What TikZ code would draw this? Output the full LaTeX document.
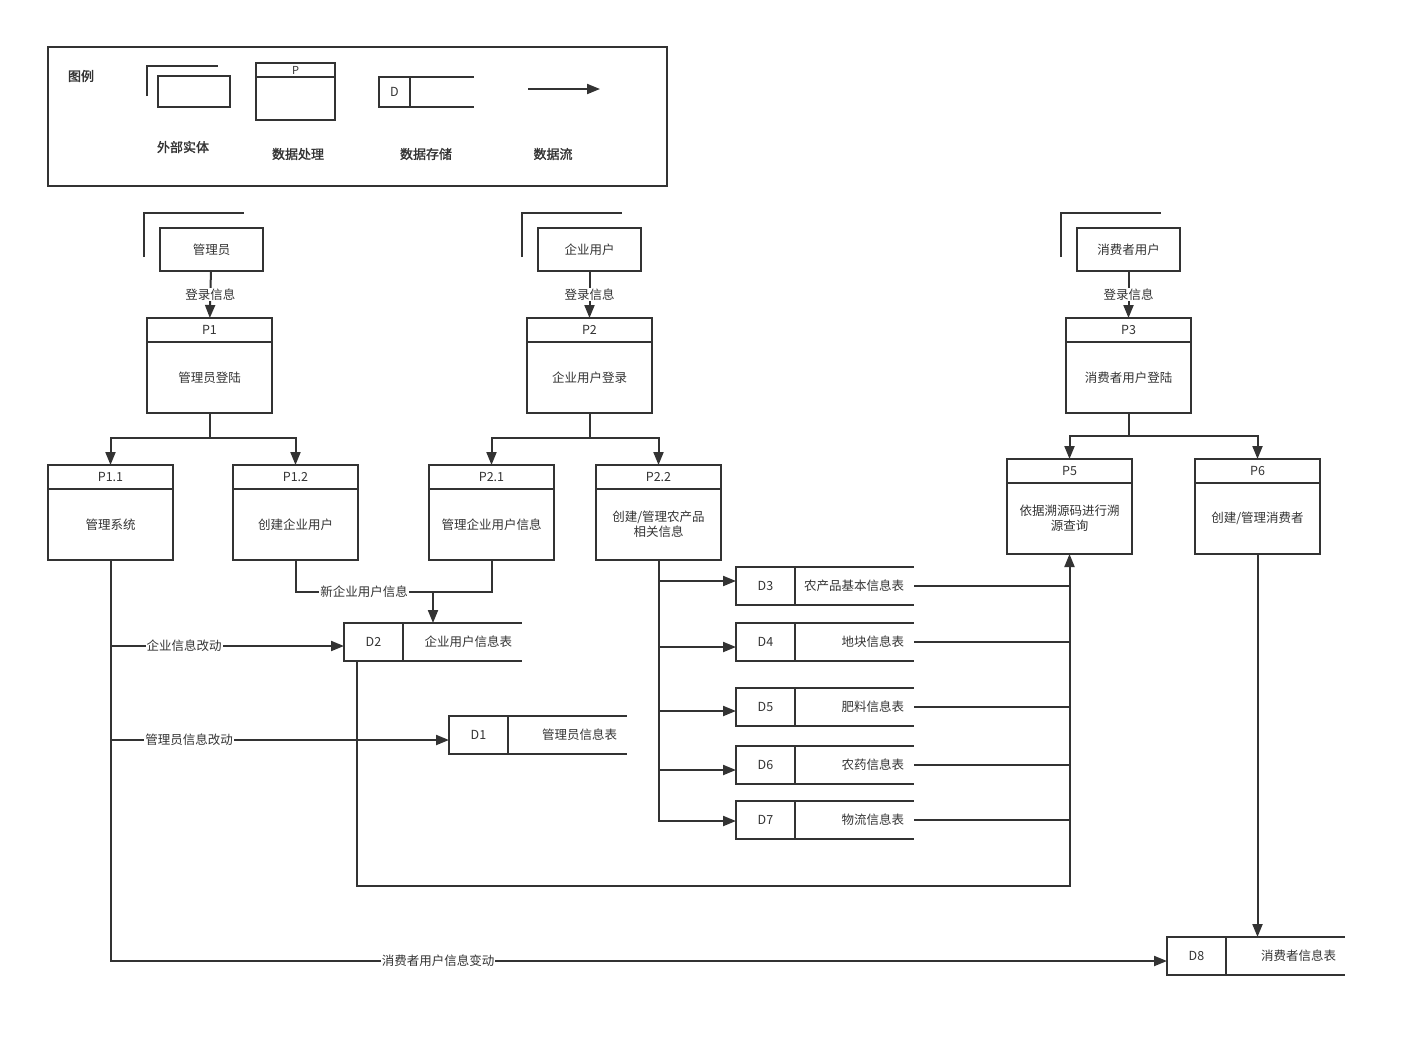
\documentclass[tikz,border=0pt]{standalone}
\usepackage{fontspec}
\setmainfont{Noto Sans CJK SC}[AutoFakeBold=1.5]
\usetikzlibrary{arrows.meta,positioning}
\definecolor{ink}{HTML}{333333}

\begin{document}
\begin{tikzpicture}[
    x=1pt, y=-1pt,
    every node/.style={font=\fontsize{12.5}{15}\selectfont, text=ink, inner sep=0pt, outer sep=0pt},
    box/.style={draw=ink, line width=2pt},
    ent/.style={box, minimum width=103pt, minimum height=43pt},
    phead/.style={box, minimum width=125pt, minimum height=24pt},
    pbody/.style={box, minimum width=125pt, minimum height=71pt, align=center},
    dkey/.style={draw=ink, line width=1.8pt, minimum width=59pt, minimum height=38pt},
    dedge/.style={draw=ink, line width=2.6pt},
    conn/.style={draw=ink, line width=2pt},
    flow/.style={conn, -{Triangle[length=13pt,width=10pt]}},
    lbl/.style={fill=white, inner sep=1pt},
    key/.style={font=\fontsize{13}{15}\selectfont\bfseries}
]
\useasboundingbox (0,0) rectangle (1408,1037);

% legend
\draw[conn] (48,47) rectangle (667,186);
\node[key] (lgtitle) at (81,76) {图例};
\node[box, minimum width=72pt, minimum height=31pt] (lgent) at (194,91.5) {};
\draw[conn] ([shift={(-11,4.5)}]lgent.west) -- ++(0,-30) -- ++(71,0);
\node[key] (lgentt) at (183,147) {外部实体};
\node[box, minimum width=79pt, minimum height=14pt] (lgph) at (295.5,70) {\fontsize{11}{12}\selectfont P};
\node[box, minimum width=79pt, minimum height=43pt, below=0pt of lgph] (lgpb) {};
\node[key] (lgpt) at (298,154) {数据处理};
\node[dkey, minimum width=31pt, minimum height=30pt] (lgd) at (394.5,92) {D};
\draw[dedge] (lgd.north west) -- ++(95,0) (lgd.south west) -- ++(95,0);
\node[key] (lgdt) at (426,154) {数据存储};
\coordinate (lga) at (528,89);
\coordinate (lgb) at (600,89);
\draw[flow] (lga) -- (lgb);
\node[key] (lgft) at (553,154) {数据流};

% external entities
\node[ent] (admin) at (211.5,249.5) {管理员};
\node[ent] (corp) at (589.5,249.5) {企业用户};
\node[ent] (cons) at (1128.5,249.5) {消费者用户};
\foreach \e in {admin,corp,cons}
  \draw[conn] ([shift={(-16,7.5)}]\e.west) -- ++(0,-44) -- ++(100,0);

% processes
\node[phead] (p1h) at (209.5,330) {P1};
\node[pbody, below=0pt of p1h] (p1) {管理员登陆};
\node[phead] (p2h) at (589.5,330) {P2};
\node[pbody, below=0pt of p2h] (p2) {企业用户登录};
\node[phead] (p3h) at (1128.5,330) {P3};
\node[pbody, below=0pt of p3h] (p3) {消费者用户登陆};

\node[phead] (p11h) at (110.5,477) {P1.1};
\node[pbody, below=0pt of p11h] (p11) {管理系统};
\node[phead] (p12h) at (295.5,477) {P1.2};
\node[pbody, below=0pt of p12h] (p12) {创建企业用户};
\node[phead] (p21h) at (491.5,477) {P2.1};
\node[pbody, below=0pt of p21h] (p21) {管理企业用户信息};
\node[phead] (p22h) at (658.5,477) {P2.2};
\node[pbody, below=0pt of p22h] (p22) {创建/管理农产品\\相关信息};
\node[phead] (p5h) at (1069.5,471) {P5};
\node[pbody, below=0pt of p5h] (p5) {依据溯源码进行溯\\源查询};
\node[phead] (p6h) at (1257.5,471) {P6};
\node[pbody, below=0pt of p6h] (p6) {创建/管理消费者};

% data stores
\foreach \i/\cx/\cy in {1/478.5/735, 2/373.5/642, 3/765.5/586, 4/765.5/642,
                        5/765.5/707, 6/765.5/765, 7/765.5/820, 8/1196.5/956} {
  \node[dkey] (d\i) at (\cx,\cy) {D\i};
  \draw[dedge] (d\i.north west) -- ++(178,0) (d\i.south west) -- ++(178,0);
  \coordinate (e\i) at ([xshift=178pt]d\i.west);
}
\foreach \i/\rx/\t in {1/617/管理员信息表, 2/512/企业用户信息表, 3/904/农产品基本信息表,
                       4/904/地块信息表, 5/904/肥料信息表, 6/904/农药信息表,
                       7/904/物流信息表, 8/1336/消费者信息表}
  \node[anchor=east] (d\i n) at (d\i -| \rx,0) {\t};

% login flows
\draw[flow] (admin) -- node[lbl] (lg1) {登录信息} (p1h);
\draw[flow] (corp) -- node[lbl] (lg2) {登录信息} (p2h);
\draw[flow] (cons) -- node[lbl] (lg3) {登录信息} (p3h);

% splits
\draw[flow] (p1.south) -- ++(0,25) -| (p11h.north);
\draw[flow] (p1.south) -- ++(0,25) -| (p12h.north);
\draw[flow] (p2.south) -- ++(0,25) -| (p21h.north);
\draw[flow] (p2.south) -- ++(0,25) -| (p22h.north);
\draw[flow] (p3.south) -- ++(0,23) -| (p5h.north);
\draw[flow] (p3.south) -- ++(0,23) -| (p6h.north);

% new corporate user
\coordinate (j2) at (433,592);
\draw[conn] (p12.south) |- (j2) -| (p21.south);
\draw[flow] (j2) -- (j2 |- d2.north);
\node[lbl] (newinfo) at (364,592) {新企业用户信息};

% admin system
\coordinate (d2in) at ([yshift=-4pt]d2.west);
\coordinate (d1in) at ([yshift=-5pt]d1.west);
\coordinate (d8in) at ([yshift=-5pt]d8.west);
\draw[flow] (p11.south) |- (d8in);
\draw[flow] (p11.south |- d2in) -- (d2in);
\draw[flow] (p11.south |- d1in) -- (d1in);
\node[lbl] (chg1) at (184,646) {企业信息改动};
\node[lbl] (chg2) at (189,740) {管理员信息改动};
\node[lbl] (chg3) at (438,961) {消费者用户信息变动};

% product data
\draw[flow] (p22.south) |- ([yshift=5pt]d3.west);
\draw[flow] (p22.south) |- ([yshift=-5pt]d4.west);
\draw[flow] (p22.south) |- ([yshift=-4pt]d5.west);
\draw[flow] (p22.south) |- ([yshift=-5pt]d6.west);
\draw[flow] (p22.south) |- ([yshift=-1pt]d7.west);

% trace query
\foreach \i in {3,...,7}
  \draw[conn] (e\i) -- (e\i -| p5.south);
\draw[flow] ([xshift=13pt]d2.south west) -- ++(0,225) -| (p5.south);

% consumers
\draw[flow] (p6.south) -- (p6.south |- d8.north);

\end{tikzpicture}
\end{document}
